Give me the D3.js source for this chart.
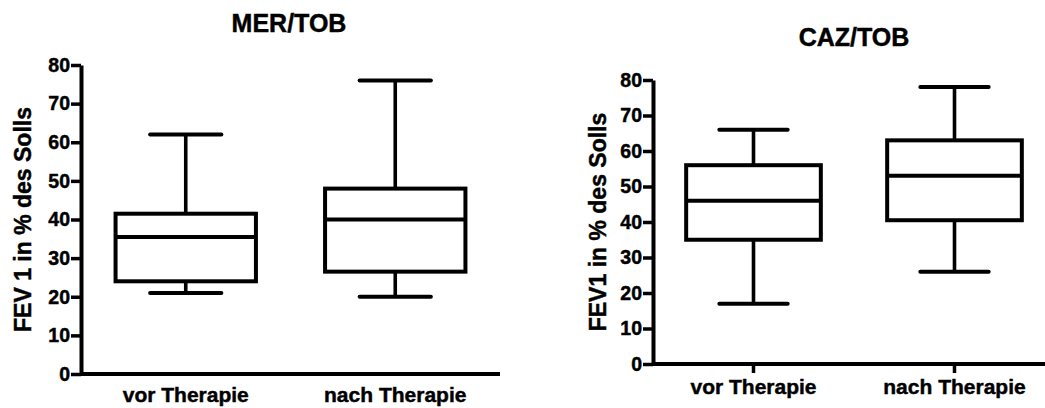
<!DOCTYPE html>
<html lang="en">
<head>
    <meta charset="UTF-8">
    <title>FEV1 vor / nach Therapie</title>
    <script src="https://d3js.org/d3.v7.min.js"></script>
    <style>
        body { margin: 0; background: #fff; }
        svg { display: block; }
        text { font-family: "Liberation Sans", Arial, sans-serif; font-weight: bold; fill: #000; stroke: #000; stroke-width: 0.45px; }
    </style>
</head>
<body>
<div id="chart"></div>

<script>
// Categories and tick values
const categories = ['vor Therapie', 'nach Therapie'];
const yTicks = [0, 10, 20, 30, 40, 50, 60, 70, 80];

// MER/TOB box plot values
const merMin = [21, 20];
const merQ1 = [24, 26.5];
const merMedian = [35.5, 40];
const merQ3 = [41.5, 48];
const merMax = [62, 76];

// CAZ/TOB box plot values
const cazMin = [17, 26];
const cazQ1 = [35, 40.5];
const cazMedian = [46, 53];
const cazQ3 = [56, 63];
const cazMax = [66, 78];

const svg = d3.select('#chart').append('svg')
    .attr('width', 1045)
    .attr('height', 408);

function toRows(mins, q1s, meds, q3s, maxs) {
    return categories.map((c, i) => ({ cat: c, min: mins[i], q1: q1s[i], med: meds[i], q3: q3s[i], max: maxs[i] }));
}

function drawPanel(cfg) {
    const rows = toRows(...cfg.values);
    const x = d3.scalePoint().domain(categories).range([cfg.x0, cfg.x1]).padding(0.5);
    const y = d3.scaleLinear().domain([0, 80]).range([cfg.yBottom, cfg.yTop]);
    const step = x.step();
    const boxW = step * 0.67;
    const capW = step * 0.34;

    const g = svg.append('g');

    // title
    g.append('text')
        .attr('x', cfg.titleX)
        .attr('y', cfg.titleY)
        .attr('text-anchor', 'middle')
        .style('font-size', '25px')
        .text(cfg.title);

    // whiskers (drawn first, box covers the middle)
    g.selectAll('.whisker')
        .data(rows)
      .enter().append('line')
        .attr('x1', d => x(d.cat))
        .attr('x2', d => x(d.cat))
        .attr('y1', d => y(d.min))
        .attr('y2', d => y(d.max))
        .attr('stroke', '#000')
        .attr('stroke-width', 3.6);

    // caps
    ['min', 'max'].forEach(k => {
        g.selectAll('.cap-' + k)
            .data(rows)
          .enter().append('line')
            .attr('x1', d => x(d.cat) - capW / 2)
            .attr('x2', d => x(d.cat) + capW / 2)
            .attr('y1', d => y(d[k]))
            .attr('y2', d => y(d[k]))
            .attr('stroke', '#000')
            .attr('stroke-width', 4)
            .attr('stroke-linecap', 'round');
    });

    // boxes
    g.selectAll('.box')
        .data(rows)
      .enter().append('rect')
        .attr('x', d => x(d.cat) - boxW / 2)
        .attr('y', d => y(d.q3))
        .attr('width', boxW)
        .attr('height', d => y(d.q1) - y(d.q3))
        .attr('fill', '#fff')
        .attr('stroke', '#000')
        .attr('stroke-width', 4);

    // medians
    g.selectAll('.median')
        .data(rows)
      .enter().append('line')
        .attr('x1', d => x(d.cat) - boxW / 2)
        .attr('x2', d => x(d.cat) + boxW / 2)
        .attr('y1', d => y(d.med))
        .attr('y2', d => y(d.med))
        .attr('stroke', '#000')
        .attr('stroke-width', 4);

    // y axis
    const yAxis = g.append('g')
        .attr('transform', `translate(${cfg.x0},0)`)
        .call(d3.axisLeft(y).tickValues(yTicks).tickSize(10).tickSizeOuter(0).tickPadding(1));
    yAxis.select('.domain').attr('stroke', '#000').attr('stroke-width', 4);
    yAxis.selectAll('.tick line').attr('stroke', '#000').attr('stroke-width', 3.5);
    yAxis.selectAll('.tick text')
        .attr('fill', '#000')
        .style('font-size', '19.5px')
        .style('font-family', '"Liberation Sans", Arial, sans-serif')
        .style('font-weight', 'bold');

    // x axis line
    g.append('line')
        .attr('x1', cfg.x0)
        .attr('x2', cfg.x1)
        .attr('y1', y(0))
        .attr('y2', y(0))
        .attr('stroke', '#000')
        .attr('stroke-width', 4);

    if (cfg.xTicks) {
        g.selectAll('.xtick')
            .data(categories)
          .enter().append('line')
            .attr('x1', d => x(d))
            .attr('x2', d => x(d))
            .attr('y1', y(0))
            .attr('y2', y(0) + 9)
            .attr('stroke', '#000')
            .attr('stroke-width', 3.5);
    }

    // category labels
    g.selectAll('.cat')
        .data(categories)
      .enter().append('text')
        .attr('x', d => x(d))
        .attr('y', y(0) + cfg.catDy)
        .attr('text-anchor', 'middle')
        .style('font-size', '21px')
        .text(d => d);

    // y axis label
    g.append('text')
        .attr('transform', `translate(${cfg.yLabelX},${(cfg.yTop + cfg.yBottom) / 2}) rotate(-90)`)
        .attr('text-anchor', 'middle')
        .style('font-size', '23px')
        .text(cfg.yLabel);
}

drawPanel({
    values: [merMin, merQ1, merMedian, merQ3, merMax],
    title: 'MER/TOB', titleX: 289, titleY: 32,
    yLabel: 'FEV 1 in % des Solls', yLabelX: 31,
    x0: 81, x1: 500, yTop: 65, yBottom: 374,
    catDy: 28, xTicks: false
});

drawPanel({
    values: [cazMin, cazQ1, cazMedian, cazQ3, cazMax],
    title: 'CAZ/TOB', titleX: 854, titleY: 46,
    yLabel: 'FEV1 in % des Solls', yLabelX: 606,
    x0: 653, x1: 1055, yTop: 80, yBottom: 364,
    catDy: 30, xTicks: true
});
</script>
</body>
</html>
